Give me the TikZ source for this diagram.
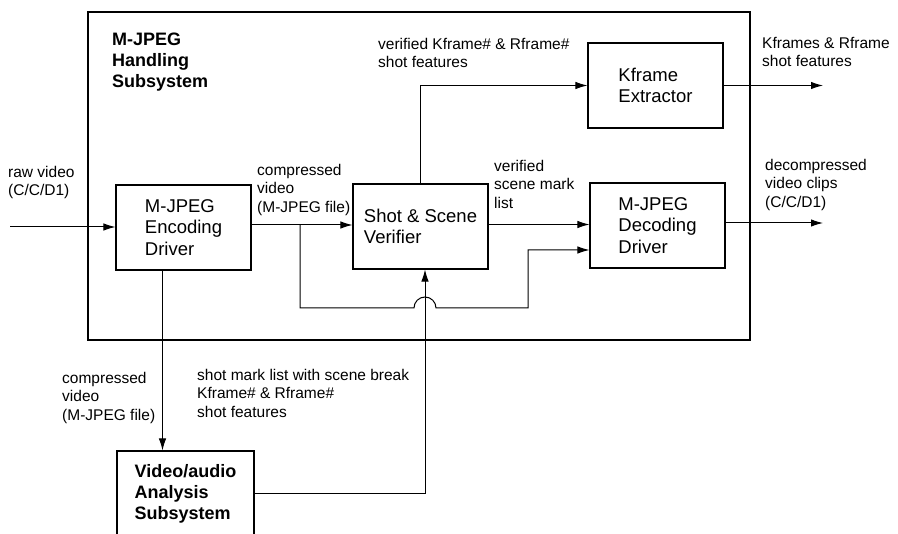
\documentclass[tikz,border=0pt]{standalone}
\usepackage{fontspec}
\setmainfont{Liberation Sans}
\usepackage{tikz}
\usetikzlibrary{
	arrows.meta,
	positioning
}

\tikzset{
	block/.style={draw, line width=1.1pt, minimum width=135pt, minimum height=85pt,
		align=left, font=\fontsize{18.5}{21.5}\selectfont},
	lbl/.style={anchor=north west, align=left, inner sep=0pt,
		font=\fontsize{15.5}{18.5}\selectfont},
	flow/.style={line width=1pt, -{Latex[length=12pt,width=7.5pt]}}
}

\begin{document}
\begin{tikzpicture}[x=1pt,y=-1pt]
		
		\useasboundingbox (0,0) rectangle (898,534);
		
		\draw[line width=2pt] (88,12) rectangle (750,340);
		\node[lbl, font=\fontsize{18}{21}\selectfont\bfseries] (title) at (112,33) {M-JPEG\\Handling\\Subsystem};
		
		\node[block] (enc) at (183.5,227.5) {M-JPEG\\Encoding\\Driver};
		\node[block] (ver) at (420.5,226.5) {Shot \& Scene\\Verifier};
		\node[block] (kfx) at (655.5,85.5) {Kframe\\Extractor};
		\node[block] (dec) at (657.5,225.5) {M-JPEG\\Decoding\\Driver};
		\node[block, minimum width=137pt, minimum height=86pt, font=\fontsize{18}{21}\selectfont\bfseries] (ana) at (185.5,494) {Video/audio\\Analysis\\Subsystem};
		
		\coordinate (rawin) at (10,227);
		\coordinate (split) at (300,225);
		\coordinate (hop) at (425,308);
		\coordinate (loopr) at (528,250);
		\coordinate (kfout) at (823,85.5);
		\coordinate (decout) at (823,223);
		
		\draw[flow] (rawin) -- (rawin -| enc.west);
		\draw[flow] (enc.east |- split) -- (split -| ver.west);
		\draw[flow] (split) |- ([xshift=-11pt]hop)
		arc[start angle=180, end angle=0, radius=11pt] -| (loopr) -- (loopr -| dec.west);
		\draw[flow] ([yshift=2pt]ver.east) -- ([yshift=2pt]ver.east -| dec.west);
		\draw[flow] (ver.north) |- (kfx.west);
		\draw[flow] (kfx.east) -- (kfout);
		\draw[flow] (dec.east |- decout) -- (decout);
		\draw[flow] ([xshift=-21pt]enc.south) -- ([xshift=-21pt]enc.south |- ana.north);
		\draw[flow] (ana.east) -| (hop |- ver.south);
		
		\node[lbl] (rawlbl) at (8,165.7) {raw video\\(C/C/D1)};
		\node[lbl] (cvlbl) at (257,163.7) {compressed\\video\\(M-JPEG file)};
		\node[lbl] (vklbl) at (378,37.7) {verified Kframe\# \& Rframe\#\\shot features};
		\node[lbl] (kolbl) at (762,36.7) {Kframes \& Rframe\\shot features};
		\node[lbl] (vslbl) at (494,159.7) {verified\\scene mark\\list};
		\node[lbl] (dolbl) at (765,158.7) {decompressed\\video clips\\(C/C/D1)};
		\node[lbl] (calbl) at (62,371.7) {compressed\\video\\(M-JPEG file)};
		\node[lbl] (smlbl) at (197,368.7) {shot mark list with scene break\\Kframe\# \& Rframe\#\\shot features};
		
	\end{tikzpicture}
\end{document}
